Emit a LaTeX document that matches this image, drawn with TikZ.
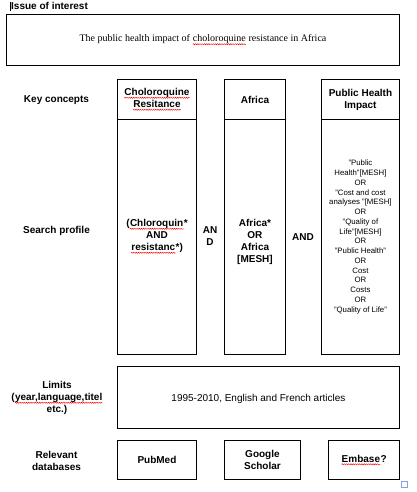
\documentclass[tikz,border=0pt]{standalone}
\usepackage{fontspec}
\setmainfont{Liberation Sans}
\newfontfamily\timesfont{Liberation Serif}
\usetikzlibrary{decorations.pathmorphing}
\newcommand\redwave[1]{\tikz[baseline=(w.base),x=1pt,y=1pt]{\node[inner sep=0pt,anchor=base west] (w) at (0,0) {#1};\draw[red,line width=0.45pt,decorate,decoration={snake,amplitude=0.55pt,segment length=2.2pt}] ([yshift=-2.2pt]w.base west) -- ([yshift=-2.2pt]w.base east);}}
\begin{document}
\begin{tikzpicture}[x=1pt,y=-1pt,
  box/.style={draw=black,line width=0.9pt,rectangle,inner sep=0pt,anchor=north west},
  lbl/.style={font=\fontsize{10}{12}\selectfont\bfseries,align=center,inner sep=0pt},
  txt/.style={font=\fontsize{10}{12}\selectfont,align=center,inner sep=0pt},
  small/.style={font=\fontsize{7.8}{9.75}\selectfont,align=center,inner sep=0pt}]
\useasboundingbox (0,0) rectangle (416,492);
% title
\node[lbl,anchor=west] (issue) at (11,6) {Issue of interest};
\coordinate (cA) at (10,2);
\coordinate (cB) at (10,11);
\draw[line width=0.8pt] (cA) -- (cB);
% issue box
\node[box,minimum width=393pt,minimum height=51pt] (ibox) at (6,14) {};
\node[font=\timesfont\fontsize{10}{12}\selectfont,inner sep=0pt] (itext) at (ibox.center) {The public health impact of \redwave{choloroquine} resistance in Africa};
% key concept boxes
\node[box,minimum width=79pt,minimum height=40pt] (k1) at (117,79) {};
\node[box,minimum width=61pt,minimum height=40pt] (k2) at (224,79) {};
\node[box,minimum width=78pt,minimum height=40pt] (k3) at (321,79) {};
\node[lbl] (k1t) at (k1.center) {\redwave{Choloroquine}\\\redwave{Resitance}};
\node[lbl] (k2t) at (k2.center) {Africa};
\node[lbl] (k3t) at (k3.center) {Public Health\\Impact};
% search boxes
\node[box,minimum width=79pt,minimum height=235pt] (s1) at (117,119) {};
\node[box,minimum width=61pt,minimum height=235pt] (s2) at (224,119) {};
\node[box,minimum width=78pt,minimum height=235pt] (s3) at (321,119) {};
\node[lbl] (s1t) at ([yshift=0.5pt]s1.center) {(\redwave{Chloroquin}*\\AND\\\redwave{resistanc}*)};
\node[lbl] (s2t) at ([yshift=-5pt]s2.center) {Africa*\\OR\\Africa\\{[MESH]}};
\node[small] (s3t) at (s3.center) {"Public\\Health"[MESH]\\OR\\"Cost and cost\\analyses "[MESH]\\OR\\"Quality of\\Life"[MESH]\\OR\\"Public Health"\\OR\\Cost\\OR\\Costs\\OR\\"Quality of Life"};
\node[lbl] (and1) at (210,236.5) {AN\\D};
\node[lbl] (and2) at (303,237) {AND};
% left labels
\node[lbl] (lkey) at (56.5,100) {Key concepts};
\node[lbl] (lsearch) at (56.5,231) {Search profile};
\node[lbl] (llim) at (57,398) {Limits\\(\redwave{year,language,titel}\\etc.)};
\node[lbl] (ldb) at (56.5,461) {Relevant\\databases};
% limits
\node[box,minimum width=282pt,minimum height=62pt] (lim) at (117,366) {};
\node[txt] (limt) at ([yshift=-1pt]lim.center) {1995-2010, English and French articles};
% databases
\node[box,minimum width=79pt,minimum height=39pt] (d1) at (117,440) {};
\node[box,minimum width=76pt,minimum height=39pt] (d2) at (224,440) {};
\node[box,minimum width=71pt,minimum height=39pt] (d3) at (328,440) {};
\node[lbl] (d1t) at (d1.center) {PubMed};
\node[lbl] (d2t) at (d2.center) {Google\\Scholar};
\node[lbl] (d3t) at (d3.center) {\redwave{Embase}?};
% selection handle
\node[draw={rgb,255:red,130;green,160;blue,235},line width=0.9pt,minimum size=6pt,inner sep=0pt,anchor=north west] (handle) at (400.5,480.5) {};
\end{tikzpicture}
\end{document}
